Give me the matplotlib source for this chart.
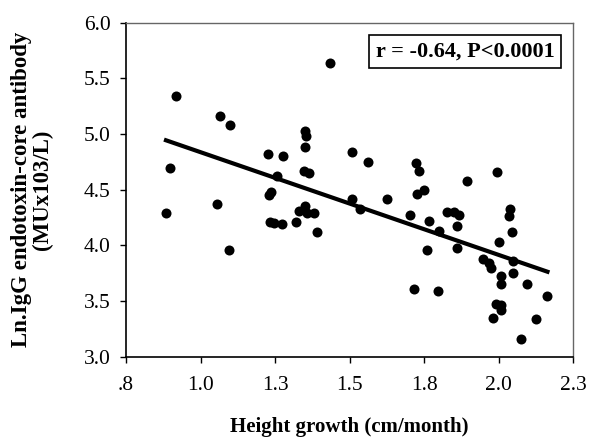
import matplotlib
matplotlib.use("Agg")
import matplotlib.pyplot as plt
import numpy as np

plt.rcParams["font.family"] = ["Liberation Serif", "DejaVu Serif"]

# Height growth (cm/month)
height_growth = [
    0.898, 0.918, 0.884, 1.055, 1.066, 1.099, 1.097, 1.226, 1.229, 1.236,
    1.234, 1.247, 1.273, 1.256, 1.275, 1.320, 1.329, 1.349, 1.357, 1.382,
    1.391, 1.349, 1.354, 1.349, 1.346, 1.365, 1.435, 1.508, 1.561, 1.508,
    1.534, 1.624, 1.702, 1.715, 1.724, 1.732, 1.727, 1.749, 1.766, 1.760,
    1.796, 1.799, 1.828, 1.850, 1.867, 1.861, 1.859, 1.895, 1.996, 2.001,
    2.038, 2.035, 2.044, 2.049, 2.049, 2.009, 2.009, 2.094, 1.949, 1.968,
    1.973, 2.164, 1.990, 2.007, 2.009, 1.981, 2.124, 2.076,
]
# Ln IgG endotoxin-core antibody
ln_igg = [
    4.69, 5.34, 4.29, 4.37, 5.16, 5.08, 3.96, 4.82, 4.45, 4.48,
    4.21, 4.20, 4.19, 4.62, 4.80, 4.21, 4.31, 4.35, 4.29, 4.29,
    4.12, 5.03, 4.98, 4.88, 4.67, 4.65, 5.64, 4.84, 4.75, 4.42,
    4.33, 4.42, 4.27, 3.61, 4.74, 4.67, 4.46, 4.50, 4.22, 3.96,
    3.59, 4.13, 4.30, 4.30, 4.27, 4.17, 3.98, 4.58, 4.66, 4.03,
    4.33, 4.26, 4.12, 3.86, 3.75, 3.72, 3.65, 3.65, 3.88, 3.84,
    3.80, 3.54, 3.47, 3.46, 3.42, 3.35, 3.34, 3.16,
]

x_ticks = [0.75, 1.0, 1.25, 1.5, 1.75, 2.0, 2.25]
x_tick_labels = [".8", "1.0", "1.3", "1.5", "1.8", "2.0", "2.3"]
y_ticks = [3.0, 3.5, 4.0, 4.5, 5.0, 5.5, 6.0]
stats_text = "r = -0.64, P<0.0001"

x = np.array(height_growth)
y = np.array(ln_igg)

fig = plt.figure(figsize=(5.89, 4.43), dpi=100)
ax = fig.add_axes([0.214, 0.195, 0.759, 0.754])

ax.scatter(x, y, s=52, color="black", zorder=3, linewidths=0)

# least squares line over the data range
slope, intercept = np.polyfit(x, y, 1)
xl = np.array([x.min(), x.max()])
ax.plot(xl, slope * xl + intercept, color="black", lw=3.0, zorder=2)

ax.set_xlim(0.75, 2.25)
ax.set_ylim(3.0, 6.0)
ax.set_xticks(x_ticks)
ax.set_xticklabels(x_tick_labels)
ax.set_yticks(y_ticks)
ax.set_yticklabels([f"{v:.1f}" for v in y_ticks])
ax.tick_params(direction="out", length=4, width=1, labelsize=15.5)
ax.tick_params(axis="x", pad=10)
ax.tick_params(axis="y", pad=7)

for side in ["left", "bottom"]:
    ax.spines[side].set_linewidth(1.2)
for side in ["top", "right"]:
    ax.spines[side].set_color("#666666")
    ax.spines[side].set_linewidth(1.0)

ax.set_xlabel("Height growth (cm/month)", fontsize=15, fontweight="bold", labelpad=16)
ax.set_ylabel("Ln.IgG endotoxin-core antibody\n(MUx103/L)", fontsize=16.5,
              fontweight="bold", labelpad=22, linespacing=1.0)

ax.text(0.758, 0.913, stats_text, transform=ax.transAxes, ha="center", va="center",
        fontsize=16, fontweight="bold",
        bbox=dict(boxstyle="square,pad=0.3", facecolor="white", edgecolor="black", lw=1.2))

fig.savefig("out.png", dpi=100)
